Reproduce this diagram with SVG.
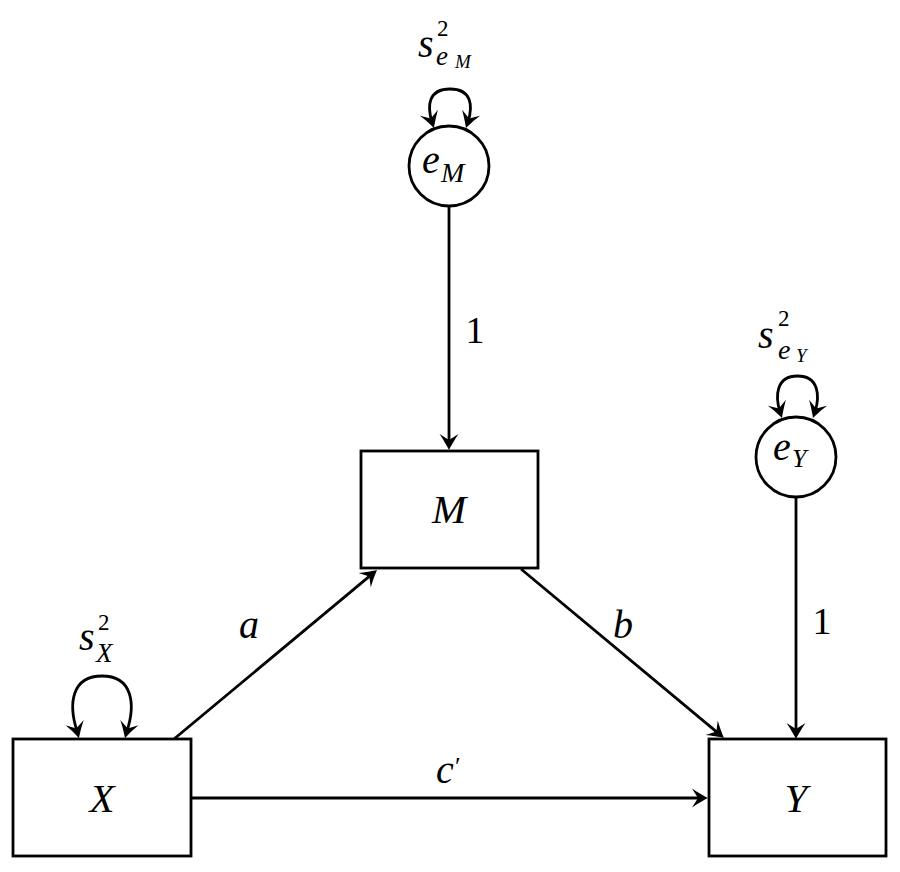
<svg xmlns="http://www.w3.org/2000/svg" xmlns:xlink="http://www.w3.org/1999/xlink" width="900" height="872" viewBox="0 0 900 872">
<style>
.box{fill:#fff;stroke:#000;stroke-width:2.8}
.edge{fill:none;stroke:#000;stroke-width:2.8}
.m{font-family:'Liberation Serif','Times New Roman',serif;font-style:italic;fill:#000}
.n{font-family:'Liberation Serif','Times New Roman',serif;font-style:normal;fill:#000}
</style>
<defs>
<path id="ah" d="M0,0 C-4,-2 -11,-6 -16,-9.5 L-10,0 L-16,9.5 C-11,6 -4,2 0,0 Z" fill="#000"/>
</defs>
<rect width="900" height="872" fill="#fff"/>
<g id="connectors">
<path class="edge" d="M449,206 L449,442"/>
<use xlink:href="#ah" href="#ah" transform="translate(449,450) rotate(90)"/>
<path class="edge" d="M796,497 L796,731"/>
<use xlink:href="#ah" href="#ah" transform="translate(796,739) rotate(90)"/>
<path class="edge" d="M191,798 L700,798"/>
<use xlink:href="#ah" href="#ah" transform="translate(708,798)"/>
<path class="edge" d="M174,739 L370.8,575.1"/>
<use xlink:href="#ah" href="#ah" transform="translate(377,570) rotate(-39.8)"/>
<path class="edge" d="M521,569 L717.8,732.9"/>
<use xlink:href="#ah" href="#ah" transform="translate(724,738) rotate(39.8)"/>
<path class="edge" d="M432,122 C427,106 428,89 450,89 C472,89 473,106 468,122"/>
<use xlink:href="#ah" href="#ah" transform="translate(434,128) rotate(71.6)"/>
<use xlink:href="#ah" href="#ah" transform="translate(466,128) rotate(108.4)"/>
<path class="edge" d="M780,412 C775,396 776,376 797.5,376 C819,376 820,396 815,412"/>
<use xlink:href="#ah" href="#ah" transform="translate(782,418) rotate(71.6)"/>
<use xlink:href="#ah" href="#ah" transform="translate(813,418) rotate(108.4)"/>
<path class="edge" d="M77,731 C68,703 72,676 102,676 C132,676 136,703 127,731"/>
<use xlink:href="#ah" href="#ah" transform="translate(79,738) rotate(74)"/>
<use xlink:href="#ah" href="#ah" transform="translate(125,738) rotate(106)"/>
<text class="n" x="475" y="343" font-size="38" text-anchor="middle">1</text>
<text class="n" x="822" y="634" font-size="38" text-anchor="middle">1</text>
<text class="m" x="249" y="638" font-size="40" text-anchor="middle">a</text>
<text class="m" x="623" y="638" font-size="40" text-anchor="middle">b</text>
<text class="m" x="436" y="783" font-size="40">c</text>
<text class="n" x="455" y="775" font-size="26">′</text>
</g>
<g id="node-X">
<rect class="box" x="13" y="739" width="178" height="117"/>
<text class="m" x="102" y="812" font-size="41" text-anchor="middle">X</text>
</g>
<g id="node-M">
<rect class="box" x="361" y="451" width="177" height="117"/>
<text class="m" x="449" y="523" font-size="41" text-anchor="middle">M</text>
</g>
<g id="node-Y">
<rect class="box" x="709" y="739" width="177" height="117"/>
<text class="m" x="796" y="812" font-size="41" text-anchor="middle">Y</text>
</g>
<g id="node-eM">
<circle class="box" cx="449" cy="166" r="40"/>
<text class="m" x="422" y="173" font-size="40">e</text>
<text class="m" x="441" y="182" font-size="28">M</text>
</g>
<g id="node-eY">
<circle class="box" cx="796" cy="457" r="40"/>
<text class="m" x="773" y="460" font-size="40">e</text>
<text class="m" x="792" y="467" font-size="26">Y</text>
</g>
<g id="label-sX">
<text class="m" x="79" y="650" font-size="40">s</text>
<text class="n" x="98" y="630" font-size="23">2</text>
<text class="m" x="96" y="662" font-size="27">X</text>
</g>
<g id="label-seM">
<text class="m" x="418" y="57" font-size="40">s</text>
<text class="n" x="437" y="36" font-size="23">2</text>
<text class="m" x="436" y="65" font-size="27">e</text>
<text class="m" x="455" y="68" font-size="19">M</text>
</g>
<g id="label-seY">
<text class="m" x="758" y="348" font-size="40">s</text>
<text class="n" x="778" y="326" font-size="23">2</text>
<text class="m" x="778" y="359" font-size="28">e</text>
<text class="m" x="796" y="362" font-size="19">Y</text>
</g>
</svg>
